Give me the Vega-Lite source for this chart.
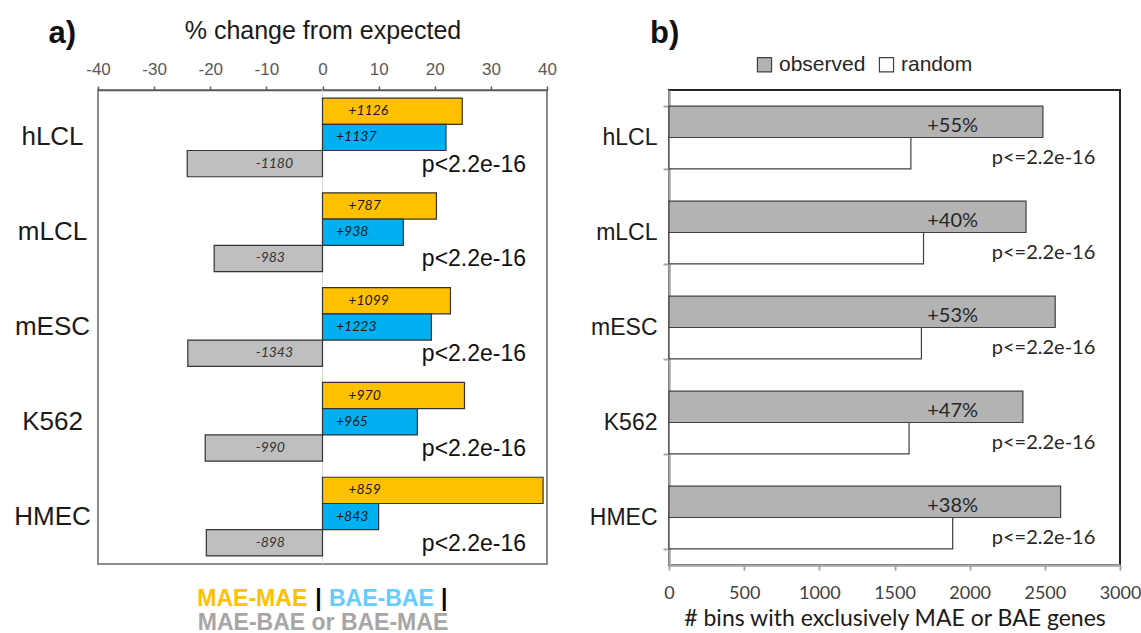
{
  "$schema": "https://vega.github.io/schema/vega-lite/v6.json",
  "background": "white",
  "padding": {"left": 12, "top": 16, "right": 5, "bottom": 2},
  "bounds": "flush",
  "spacing": 122,
  "config": {"font": "Liberation Sans"},
  "resolve": {"scale": {"color": "independent", "yOffset": "independent"}},
  "datasets": {
    "left": [
      {"cell": "hLCL", "type": "MAE-MAE", "value": 24.9, "n": "+1126"},
      {"cell": "hLCL", "type": "BAE-BAE", "value": 22.0, "n": "+1137"},
      {"cell": "hLCL", "type": "MAE-BAE or BAE-MAE", "value": -24.1, "n": "-1180"},
      {"cell": "mLCL", "type": "MAE-MAE", "value": 20.3, "n": "+787"},
      {"cell": "mLCL", "type": "BAE-BAE", "value": 14.4, "n": "+938"},
      {"cell": "mLCL", "type": "MAE-BAE or BAE-MAE", "value": -19.3, "n": "-983"},
      {"cell": "mESC", "type": "MAE-MAE", "value": 22.8, "n": "+1099"},
      {"cell": "mESC", "type": "BAE-BAE", "value": 19.4, "n": "+1223"},
      {"cell": "mESC", "type": "MAE-BAE or BAE-MAE", "value": -24.0, "n": "-1343"},
      {"cell": "K562", "type": "MAE-MAE", "value": 25.3, "n": "+970"},
      {"cell": "K562", "type": "BAE-BAE", "value": 16.9, "n": "+965"},
      {"cell": "K562", "type": "MAE-BAE or BAE-MAE", "value": -20.9, "n": "-990"},
      {"cell": "HMEC", "type": "MAE-MAE", "value": 39.3, "n": "+859"},
      {"cell": "HMEC", "type": "BAE-BAE", "value": 10.0, "n": "+843"},
      {"cell": "HMEC", "type": "MAE-BAE or BAE-MAE", "value": -20.7, "n": "-898"}
    ],
    "right": [
      {"cell": "hLCL", "type": "observed", "count": 2487, "note": "+55%"},
      {"cell": "hLCL", "type": "random", "count": 1609, "note": "p<=2.2e-16"},
      {"cell": "mLCL", "type": "observed", "count": 2375, "note": "+40%"},
      {"cell": "mLCL", "type": "random", "count": 1693, "note": "p<=2.2e-16"},
      {"cell": "mESC", "type": "observed", "count": 2569, "note": "+53%"},
      {"cell": "mESC", "type": "random", "count": 1679, "note": "p<=2.2e-16"},
      {"cell": "K562", "type": "observed", "count": 2354, "note": "+47%"},
      {"cell": "K562", "type": "random", "count": 1597, "note": "p<=2.2e-16"},
      {"cell": "HMEC", "type": "observed", "count": 2605, "note": "+38%"},
      {"cell": "HMEC", "type": "random", "count": 1887, "note": "p<=2.2e-16"}
    ]
  },
  "hconcat": [
    {
      "width": 449,
      "height": 474,
      "view": {"stroke": "#8C8C8C", "strokeWidth": 2},
      "resolve": {"axis": {"x": "independent"}},
      "layer": [
        {
          "data": {"values": [{"v": 0}]},
          "mark": {"type": "rule", "color": "#D9D9D9", "strokeWidth": 1},
          "encoding": {
            "x": {
              "field": "v", "type": "quantitative",
              "scale": {"domain": [-40, 40], "nice": false},
              "axis": {
                "orient": "bottom",
                "values": [-12.6, -0.8, 10.4, 21.6],
                "labelExpr": "datum.value < -5 ? 'MAE-MAE' : (datum.value < 5 ? '|' : (datum.value < 15 ? 'BAE-BAE' : '|'))",
                "labelColor": {"condition": [{"test": "datum.value < -5", "value": "#FFC000"}, {"test": "datum.value > 5 && datum.value < 15", "value": "#66CCFF"}], "value": "#000000"},
                "labelFont": "Liberation Sans",
                "labelFontWeight": "bold",
                "labelFontSize": 23,
                "labelPadding": 23,
                "labelOverlap": false,
                "labelFlush": false,
                "labelBound": false,
                "labelAlign": "center",
                "labelBaseline": "top",
                "domain": false,
                "ticks": false,
                "tickSize": 0,
                "grid": false,
                "title": "MAE-BAE or BAE-MAE",
                "titleColor": "#A6A6A6",
                "titleFont": "Liberation Sans",
                "titleFontWeight": "bold",
                "titleFontSize": 23,
                "titlePadding": 1
              }
            }
          }
        },
        {
          "data": {"name": "left"},
          "mark": {"type": "bar", "stroke": "#333333", "strokeWidth": 1.2},
          "encoding": {
            "y": {
              "field": "cell", "type": "nominal",
              "sort": ["hLCL", "mLCL", "mESC", "K562", "HMEC"],
              "scale": {"paddingInner": 0.17, "paddingOuter": 0.085},
              "axis": {
                "title": "a)", "titleAngle": 0, "titleX": -50, "titleY": -57,
                "titleAlign": "left", "titleBaseline": "middle",
                "titleFontSize": 31, "titleFontWeight": "bold", "titleColor": "#111111",
                "labelAlign": "center", "labelBaseline": "middle", "labelPadding": 46,
                "labelFontSize": 26, "labelColor": "#1a1a1a",
                "ticks": false, "tickSize": 0, "domain": false
              }
            },
            "yOffset": {"field": "type", "type": "nominal", "sort": ["MAE-MAE", "BAE-BAE", "MAE-BAE or BAE-MAE"], "scale": {"paddingInner": 0, "paddingOuter": 0}},
            "x": {
              "field": "value", "type": "quantitative",
              "scale": {"domain": [-40, 40], "nice": false},
              "axis": {
                "orient": "top",
                "values": [-40, -30, -20, -10, 0, 10, 20, 30, 40],
                "labelExpr": "'' + datum.value",
                "title": "% change from expected",
                "titleFontSize": 25, "titleFontWeight": "normal", "titleColor": "#1a1a1a", "titlePadding": 17,
                "labelFontSize": 17, "labelColor": "#595959", "labelPadding": 8, "labelFlush": false,
                "tickSize": 4, "tickColor": "#595959", "tickWidth": 1.5,
                "domainColor": "#595959", "domainWidth": 1.5, "grid": false
              }
            },
            "color": {
              "field": "type", "type": "nominal",
              "scale": {"domain": ["MAE-MAE", "BAE-BAE", "MAE-BAE or BAE-MAE"], "range": ["#FFC000", "#00B0F0", "#BFBFBF"]},
              "legend": null
            }
          }
        },
        {
          "data": {"name": "left"},
          "transform": [{"filter": "datum.type === 'MAE-MAE'"}],
          "mark": {"type": "text", "align": "left", "baseline": "middle", "font": "Lato", "fontStyle": "italic", "fontSize": 14, "color": "#1a1a1a"},
          "encoding": {
            "y": {"field": "cell", "type": "nominal", "sort": ["hLCL", "mLCL", "mESC", "K562", "HMEC"]},
            "yOffset": {"field": "type", "type": "nominal", "sort": ["MAE-MAE", "BAE-BAE", "MAE-BAE or BAE-MAE"]},
            "x": {"datum": 4.6, "type": "quantitative", "axis": null},
            "text": {"field": "n"}
          }
        },
        {
          "data": {"name": "left"},
          "transform": [{"filter": "datum.type === 'BAE-BAE'"}],
          "mark": {"type": "text", "align": "left", "baseline": "middle", "font": "Lato", "fontStyle": "italic", "fontSize": 14, "color": "#1a1a1a"},
          "encoding": {
            "y": {"field": "cell", "type": "nominal", "sort": ["hLCL", "mLCL", "mESC", "K562", "HMEC"]},
            "yOffset": {"field": "type", "type": "nominal", "sort": ["MAE-MAE", "BAE-BAE", "MAE-BAE or BAE-MAE"]},
            "x": {"datum": 2.4, "type": "quantitative", "axis": null},
            "text": {"field": "n"}
          }
        },
        {
          "data": {"name": "left"},
          "transform": [{"filter": "datum.type === 'MAE-BAE or BAE-MAE'"}],
          "mark": {"type": "text", "align": "left", "baseline": "middle", "font": "Lato", "fontStyle": "italic", "fontSize": 14, "color": "#333333"},
          "encoding": {
            "y": {"field": "cell", "type": "nominal", "sort": ["hLCL", "mLCL", "mESC", "K562", "HMEC"]},
            "yOffset": {"field": "type", "type": "nominal", "sort": ["MAE-MAE", "BAE-BAE", "MAE-BAE or BAE-MAE"]},
            "x": {"datum": -11.9, "type": "quantitative", "axis": null},
            "text": {"field": "n"}
          }
        },
        {
          "data": {"name": "left"},
          "transform": [{"filter": "datum.type === 'MAE-BAE or BAE-MAE'"}],
          "mark": {"type": "text", "align": "left", "baseline": "middle", "fontSize": 23, "color": "#111111", "dy": 1},
          "encoding": {
            "y": {"field": "cell", "type": "nominal", "sort": ["hLCL", "mLCL", "mESC", "K562", "HMEC"]},
            "yOffset": {"field": "type", "type": "nominal", "sort": ["MAE-MAE", "BAE-BAE", "MAE-BAE or BAE-MAE"]},
            "x": {"datum": 17.7, "type": "quantitative", "axis": null},
            "text": {"value": "p<2.2e-16"}
          }
        }
      ]
    },
    {
      "width": 451,
      "height": 475,
      "view": {"stroke": "#262626", "strokeWidth": 2},
      "layer": [
        {
          "data": {"name": "right"},
          "mark": {"type": "bar", "stroke": "#404040", "strokeWidth": 1.2},
          "encoding": {
            "y": {
              "field": "cell", "type": "nominal",
              "sort": ["hLCL", "mLCL", "mESC", "K562", "HMEC"],
              "scale": {"paddingInner": 0.34, "paddingOuter": 0.17},
              "axis": {
                "title": "b)", "titleAngle": 0, "titleX": -19.5, "titleY": -57,
                "titleAlign": "left", "titleBaseline": "middle",
                "titleFontSize": 31, "titleFontWeight": "bold", "titleColor": "#111111",
                "labelAlign": "right", "labelBaseline": "middle", "labelPadding": 6,
                "labelFontSize": 23, "labelColor": "#1a1a1a",
                "tickSize": 6, "tickColor": "#A6A6A6", "tickWidth": 2, "tickBand": "extent",
                "domainColor": "#A6A6A6", "domainWidth": 2.5
              }
            },
            "yOffset": {"field": "type", "type": "nominal", "sort": ["observed", "random"], "scale": {"paddingInner": 0, "paddingOuter": 0}},
            "x": {
              "field": "count", "type": "quantitative",
              "scale": {"domain": [0, 3000], "nice": false},
              "axis": {
                "values": [0, 500, 1000, 1500, 2000, 2500, 3000],
                "labelExpr": "'' + datum.value",
                "title": "# bins with exclusively MAE or BAE genes",
                "titleFont": "Lato", "titleFontSize": 23, "titleColor": "#1a1a1a", "titleFontWeight": "normal", "titlePadding": 5,
                "labelFont": "Lato", "labelFontSize": 18, "labelColor": "#404040", "labelPadding": 14, "labelFlush": false,
                "tickSize": 5, "tickColor": "#A6A6A6", "tickWidth": 2,
                "domainColor": "#A6A6A6", "domainWidth": 2.5, "grid": false
              }
            },
            "color": {
              "field": "type", "type": "nominal",
              "scale": {"domain": ["observed", "random"], "range": ["#B3B3B3", "#FFFFFF"]},
              "legend": {
                "orient": "none", "legendX": 85, "legendY": -36, "direction": "horizontal", "title": null,
                "symbolType": "square", "symbolSize": 200, "symbolStrokeColor": "#404040", "symbolStrokeWidth": 1.2, "symbolOpacity": 1,
                "labelFont": "Liberation Sans", "labelFontSize": 21, "labelColor": "#262626", "labelOffset": 4, "columnPadding": 10
              }
            }
          }
        },
        {
          "data": {"name": "right"},
          "transform": [{"filter": "datum.type === 'observed'"}],
          "mark": {"type": "text", "align": "center", "baseline": "middle", "font": "Lato", "fontSize": 20, "color": "#262626", "dy": 4},
          "encoding": {
            "y": {"field": "cell", "type": "nominal", "sort": ["hLCL", "mLCL", "mESC", "K562", "HMEC"]},
            "yOffset": {"field": "type", "type": "nominal", "sort": ["observed", "random"]},
            "x": {"datum": 1887, "type": "quantitative"},
            "text": {"field": "note"}
          }
        },
        {
          "data": {"name": "right"},
          "transform": [{"filter": "datum.type === 'random'"}],
          "mark": {"type": "text", "align": "left", "baseline": "middle", "font": "Lato", "fontSize": 20, "color": "#262626", "dy": 5},
          "encoding": {
            "y": {"field": "cell", "type": "nominal", "sort": ["hLCL", "mLCL", "mESC", "K562", "HMEC"]},
            "yOffset": {"field": "type", "type": "nominal", "sort": ["observed", "random"]},
            "x": {"datum": 2147, "type": "quantitative"},
            "text": {"field": "note"}
          }
        }
      ]
    }
  ]
}
